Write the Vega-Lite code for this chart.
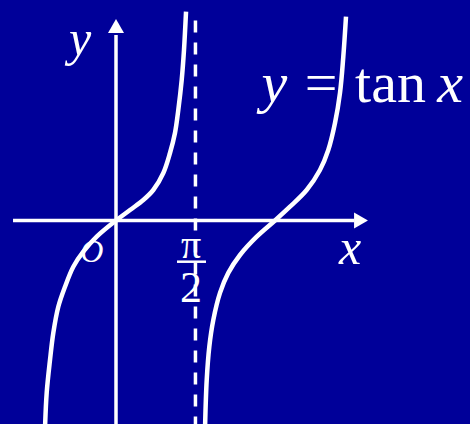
{
  "$schema": "https://vega.github.io/schema/vega-lite/v6.json",
  "width": 470,
  "height": 424,
  "autosize": {"type": "none"},
  "padding": 0,
  "background": "#000099",
  "config": {"view": {"stroke": null}},
  "datasets": {
    "curve": [
      {"branch": "a", "x": -1.394, "y": -5.2},
      {"branch": "a", "x": -1.361, "y": -4.31},
      {"branch": "a", "x": -1.296, "y": -3.49},
      {"branch": "a", "x": -1.231, "y": -2.81},
      {"branch": "a", "x": -1.133, "y": -2.155},
      {"branch": "a", "x": -1.001, "y": -1.655},
      {"branch": "a", "x": -0.838, "y": -1.155},
      {"branch": "a", "x": -0.642, "y": -0.78},
      {"branch": "a", "x": -0.379, "y": -0.405},
      {"branch": "a", "x": 0, "y": 0},
      {"branch": "a", "x": 0.275, "y": 0.2625},
      {"branch": "a", "x": 0.536, "y": 0.5125},
      {"branch": "a", "x": 0.732, "y": 0.7625},
      {"branch": "a", "x": 0.929, "y": 1.1875},
      {"branch": "a", "x": 1.06, "y": 1.6875},
      {"branch": "a", "x": 1.158, "y": 2.1875},
      {"branch": "a", "x": 1.223, "y": 2.7625},
      {"branch": "a", "x": 1.29, "y": 3.5125},
      {"branch": "a", "x": 1.335, "y": 4.2625},
      {"branch": "a", "x": 1.375, "y": 5.22},
      {"branch": "b", "x": 1.748, "y": -5.2},
      {"branch": "b", "x": 1.781, "y": -3.99},
      {"branch": "b", "x": 1.832, "y": -3.155},
      {"branch": "b", "x": 1.91, "y": -2.49},
      {"branch": "b", "x": 2.042, "y": -1.81},
      {"branch": "b", "x": 2.205, "y": -1.31},
      {"branch": "b", "x": 2.435, "y": -0.8625},
      {"branch": "b", "x": 2.763, "y": -0.405},
      {"branch": "b", "x": 3.122, "y": 0},
      {"branch": "b", "x": 3.416, "y": 0.345},
      {"branch": "b", "x": 3.744, "y": 0.7625},
      {"branch": "b", "x": 4.005, "y": 1.2625},
      {"branch": "b", "x": 4.168, "y": 1.7625},
      {"branch": "b", "x": 4.3, "y": 2.4375},
      {"branch": "b", "x": 4.398, "y": 3.1875},
      {"branch": "b", "x": 4.463, "y": 4.095},
      {"branch": "b", "x": 4.516, "y": 5.095}
    ],
    "axes": [
      {"x": -2.022, "y": 0, "x2": 4.68, "y2": 0},
      {"x": 0, "y": -5.2, "x2": 0, "y2": 4.64}
    ],
    "asymptote": [{"x": 1.56, "y": -5.2, "x2": 1.56, "y2": 5.06}],
    "arrowR": [{"x": 4.811, "y": 0}],
    "arrowU": [{"x": 0, "y": 4.8625}],
    "fracbar": [{"x": 1.198, "y": -1.03, "x2": 1.767, "y2": -1.03}],
    "axisLabels": [
      {"label": "y", "x": -0.707, "y": 4.1375},
      {"label": "x", "x": 4.595, "y": -1.0875}
    ],
    "origin": [{"label": "O", "x": -0.477, "y": -1.03}],
    "pi": [{"label": "π", "x": 1.473, "y": -0.9375}],
    "two": [{"label": "2", "x": 1.473, "y": -2.0375}],
    "eqItalic": [
      {"label": "y", "x": 3.11, "y": 2.97},
      {"label": "x", "x": 6.56, "y": 2.97}
    ],
    "eqUpright": [
      {"label": "=", "x": 4.025, "y": 2.97},
      {"label": "tan", "x": 5.39, "y": 2.97}
    ]
  },
  "encoding": {
    "x": {"field": "x", "type": "quantitative", "scale": {"domain": [-2.2777, 6.9508], "nice": false, "zero": false}, "axis": null},
    "y": {"field": "y", "type": "quantitative", "scale": {"domain": [-5.0875, 5.5125], "nice": false, "zero": false}, "axis": null}
  },
  "layer": [
    {
      "data": {"name": "axes"},
      "mark": {"type": "rule", "color": "white", "strokeWidth": 3.5},
      "encoding": {"x2": {"field": "x2"}, "y2": {"field": "y2"}}
    },
    {
      "data": {"name": "arrowR"},
      "mark": {"type": "point", "shape": "triangle-right", "size": 256, "filled": true, "color": "white", "opacity": 1}
    },
    {
      "data": {"name": "arrowU"},
      "mark": {"type": "point", "shape": "triangle-up", "size": 256, "filled": true, "color": "white", "opacity": 1}
    },
    {
      "data": {"name": "axisLabels"},
      "mark": {"type": "text", "font": "Liberation Serif", "fontStyle": "italic", "fontSize": 50, "color": "white", "align": "center", "baseline": "alphabetic"},
      "encoding": {"text": {"field": "label"}}
    },
    {
      "data": {"name": "origin"},
      "mark": {"type": "text", "font": "Liberation Serif", "fontStyle": "italic", "fontSize": 32, "color": "white", "align": "center", "baseline": "alphabetic"},
      "encoding": {"text": {"field": "label"}}
    },
    {
      "data": {"name": "pi"},
      "mark": {"type": "text", "font": "Liberation Serif", "fontSize": 40, "color": "white", "align": "center", "baseline": "alphabetic"},
      "encoding": {"text": {"field": "label"}}
    },
    {
      "data": {"name": "two"},
      "mark": {"type": "text", "font": "Liberation Serif", "fontSize": 44, "color": "white", "align": "center", "baseline": "alphabetic"},
      "encoding": {"text": {"field": "label"}}
    },
    {
      "data": {"name": "fracbar"},
      "mark": {"type": "rule", "color": "white", "strokeWidth": 2.5},
      "encoding": {"x2": {"field": "x2"}, "y2": {"field": "y2"}}
    },
    {
      "data": {"name": "eqItalic"},
      "mark": {"type": "text", "font": "Liberation Serif", "fontStyle": "italic", "fontSize": 58, "color": "white", "align": "center", "baseline": "alphabetic"},
      "encoding": {"text": {"field": "label"}}
    },
    {
      "data": {"name": "eqUpright"},
      "mark": {"type": "text", "font": "Liberation Serif", "fontSize": 58, "color": "white", "align": "center", "baseline": "alphabetic"},
      "encoding": {"text": {"field": "label"}}
    },
    {
      "data": {"name": "asymptote"},
      "mark": {"type": "rule", "color": "white", "strokeWidth": 3.5, "strokeDash": [12, 10]},
      "encoding": {"x2": {"field": "x2"}, "y2": {"field": "y2"}}
    },
    {
      "data": {"name": "curve"},
      "mark": {"type": "line", "color": "white", "strokeWidth": 4.5, "interpolate": "catmull-rom"},
      "encoding": {"detail": {"field": "branch"}}
    }
  ]
}
